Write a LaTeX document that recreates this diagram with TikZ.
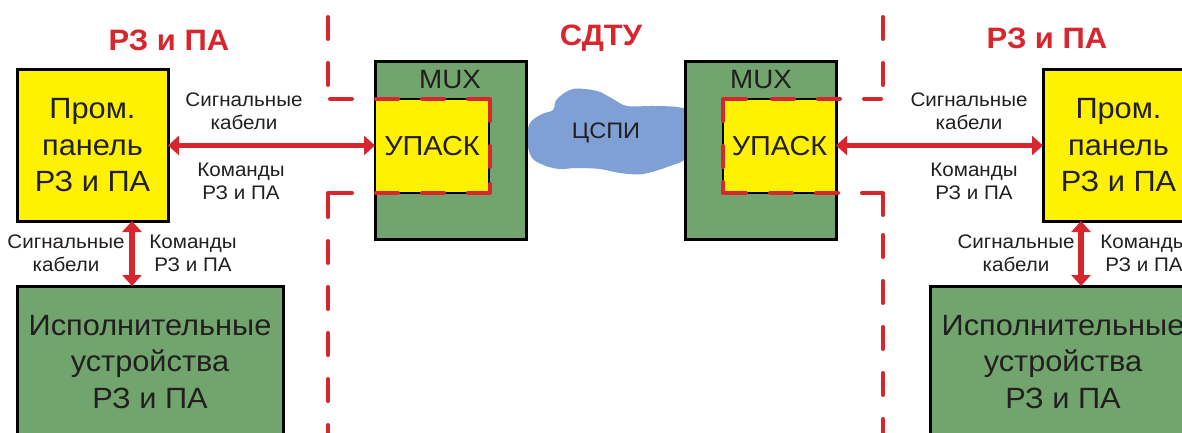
\documentclass[tikz,border=0pt]{standalone}
\usepackage{fontspec}
\setmainfont[FakeStretch=1.05]{Liberation Sans}
\usetikzlibrary{arrows.meta,calc}
\definecolor{pyellow}{HTML}{FFF200}
\definecolor{pgreen}{HTML}{72A56E}
\definecolor{pred}{HTML}{D7262E}
\definecolor{pblue}{HTML}{7EA0D4}
\definecolor{ptext}{HTML}{231F20}
\newcommand{\fbig}{\fontsize{29.3}{36.5}\selectfont}
\newcommand{\fsmall}{\fontsize{19.6}{23}\selectfont}
\newcommand{\fmux}{\fontsize{26.5}{30}\selectfont}
\newcommand{\fupask}{\fontsize{27.5}{30}\selectfont}
\newcommand{\fcloud}{\fontsize{22.4}{26}\selectfont}
\newcommand{\ftitle}{\fontsize{29.5}{34}\selectfont\bfseries}
\begin{document}
\begin{tikzpicture}[x=1pt,y=-1pt,
  every node/.style={inner sep=0pt,outer sep=0pt,text=ptext},
  box/.style={draw=black,line width=3pt},
  panel/.style={box,fill=pyellow,minimum width=151pt,minimum height=151pt,align=center,font=\fbig},
  exec/.style={box,fill=pgreen,minimum width=266pt,minimum height=152pt,align=center,font=\fbig},
  mux/.style={box,fill=pgreen,minimum width=151pt,minimum height=177pt},
  upask/.style={draw=black,line width=1.5pt,fill=pyellow,minimum height=94pt,font=\fupask},
  lbl/.style={align=center,font=\fsmall},
  title/.style={text=pred,font=\ftitle},
  arr/.style={draw=pred,line width=5.5pt,{Triangle[length=11pt,width=19pt]}-{Triangle[length=11pt,width=19pt]}},
  bnd/.style={draw=pred,line width=4pt,line cap=round,dash pattern=on 22pt off 24pt},
  bnds/.style={draw=pred,line width=4pt,line cap=round,line join=round}
]
\clip (0,0) rectangle (1182,433);
\fill[white] (0,0) rectangle (1182,433);

% cloud
\fill[pblue] plot[smooth cycle,tension=0.55] coordinates {
  (527,140) (530,123) (542,114) (553,110) (557,99) (573,89) (597,91)
  (613,99) (627,106) (653,106) (677,107) (688,112) (692,135) (686,158)
  (670,166) (643,174) (620,173) (600,169) (577,168) (560,169) (546,166) (532,158)};
\node[font=\fcloud] (cspi) at (606,133) {ЦСПИ};

% MUX boxes
\node[mux] (muxL) at (450.5,150.5) {};
\node[font=\fmux] (muxLt) at (450,80) {MUX};
\node[upask,minimum width=114pt] (upL) at (432,146) {УПАСК};
\node[mux] (muxR) at (760.5,150.5) {};
\node[font=\fmux] (muxRt) at (761,80) {MUX};
\node[upask,minimum width=113pt] (upR) at (779.5,146) {УПАСК};

% panels
\node[panel] (panL) at (92.5,145.5) {Пром.\\панель\\РЗ и ПА};
\node[panel] (panR) at (1118.5,145.5) {Пром.\\панель\\РЗ и ПА};
\node[exec] (exL) at (150,362) {Исполнительные\\устройства\\РЗ и ПА};
\node[exec] (exR) at (1063,362) {Исполнительные\\устройства\\РЗ и ПА};

% titles
\node[title] (tL) at (169,40) {РЗ и ПА};
\node[title] (tC) at (601,38) {СДТУ};
\node[title] (tR) at (1047,38) {РЗ и ПА};

% labels
\node[lbl] (l1) at (244,111) {Сигнальные\\кабели};
\node[lbl] (l2) at (241,181) {Команды\\РЗ и ПА};
\node[lbl] (l3) at (66,253) {Сигнальные\\кабели};
\node[lbl] (l4) at (193,253) {Команды\\РЗ и ПА};
\node[lbl] (r1) at (969,111) {Сигнальные\\кабели};
\node[lbl] (r2) at (974,181) {Команды\\РЗ и ПА};
\node[lbl] (r3) at (1016,253) {Сигнальные\\кабели};
\node[lbl] (r4) at (1144,253) {Команды\\РЗ и ПА};

% arrows
\draw[arr] (panL.east) -- (panL.east -| upL.west);
\draw[arr] (panR.west) -- (panR.west -| upR.east);
\draw[arr] ([xshift=39.5pt]panL.south) -- ([xshift=39.5pt]panL.south |- exL.north);
\draw[arr] ([xshift=-37.5pt]panR.south) -- ([xshift=-37.5pt]panR.south |- exR.north);

% left boundary
\draw[bnd] (328,17) -- (328,90);
\draw[bnd] (330,99) -- (448,99);
\draw[bnds] (468,99) -- (490,99) -- (490,121);
\draw[bnds] (490,146) -- (490,167);
\draw[bnds] (490,184) -- (490,193) -- (468,193);
\draw[bnd] (444,193) -- (376,193);
\draw[bnds] (352,193) -- (328,193) -- (328,217);
\draw[bnd] (328,241) -- (328,450);

% right boundary
\draw[bnd] (883,17) -- (883,90);
\draw[bnds] (864,99) -- (881,99);
\draw[bnd] (840,99) -- (770,99);
\draw[bnds] (746,99) -- (723,99) -- (723,121);
\draw[bnds] (723,146) -- (723,167);
\draw[bnds] (723,182) -- (723,193) -- (746,193);
\draw[bnd] (770,193) -- (840,193);
\draw[bnds] (862,193) -- (883,193) -- (883,215);
\draw[bnd] (883,235) -- (883,450);
\end{tikzpicture}
\end{document}
